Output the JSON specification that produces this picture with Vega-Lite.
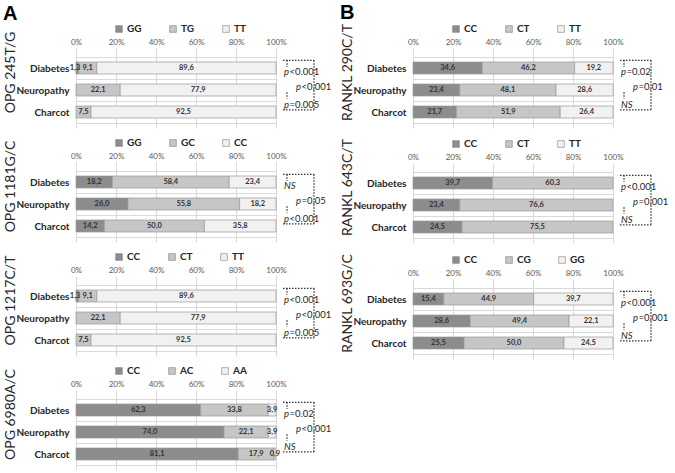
{
"$schema":"https://vega.github.io/schema/vega-lite/v6.json",
"padding":{"left":3,"right":2,"top":3,"bottom":0},
"background":"white",
"datasets":{
"bars":[
{"p":"OPG 245T/G","r":1,"g":"GG","o":0,"v":1.3},{"p":"OPG 245T/G","r":1,"g":"TG","o":1,"v":9.1},{"p":"OPG 245T/G","r":1,"g":"TT","o":2,"v":89.6},
{"p":"OPG 245T/G","r":2,"g":"TG","o":1,"v":22.1},{"p":"OPG 245T/G","r":2,"g":"TT","o":2,"v":77.9},
{"p":"OPG 245T/G","r":3,"g":"TG","o":1,"v":7.5},{"p":"OPG 245T/G","r":3,"g":"TT","o":2,"v":92.5},
{"p":"OPG 1181G/C","r":1,"g":"GG","o":0,"v":18.2},{"p":"OPG 1181G/C","r":1,"g":"GC","o":1,"v":58.4},{"p":"OPG 1181G/C","r":1,"g":"CC","o":2,"v":23.4},
{"p":"OPG 1181G/C","r":2,"g":"GG","o":0,"v":26.0},{"p":"OPG 1181G/C","r":2,"g":"GC","o":1,"v":55.8},{"p":"OPG 1181G/C","r":2,"g":"CC","o":2,"v":18.2},
{"p":"OPG 1181G/C","r":3,"g":"GG","o":0,"v":14.2},{"p":"OPG 1181G/C","r":3,"g":"GC","o":1,"v":50.0},{"p":"OPG 1181G/C","r":3,"g":"CC","o":2,"v":35.8},
{"p":"OPG 1217C/T","r":1,"g":"CC","o":0,"v":1.3},{"p":"OPG 1217C/T","r":1,"g":"CT","o":1,"v":9.1},{"p":"OPG 1217C/T","r":1,"g":"TT","o":2,"v":89.6},
{"p":"OPG 1217C/T","r":2,"g":"CT","o":1,"v":22.1},{"p":"OPG 1217C/T","r":2,"g":"TT","o":2,"v":77.9},
{"p":"OPG 1217C/T","r":3,"g":"CT","o":1,"v":7.5},{"p":"OPG 1217C/T","r":3,"g":"TT","o":2,"v":92.5},
{"p":"OPG 6980A/C","r":1,"g":"CC","o":0,"v":62.3},{"p":"OPG 6980A/C","r":1,"g":"AC","o":1,"v":33.8},{"p":"OPG 6980A/C","r":1,"g":"AA","o":2,"v":3.9},
{"p":"OPG 6980A/C","r":2,"g":"CC","o":0,"v":74.0},{"p":"OPG 6980A/C","r":2,"g":"AC","o":1,"v":22.1},{"p":"OPG 6980A/C","r":2,"g":"AA","o":2,"v":3.9},
{"p":"OPG 6980A/C","r":3,"g":"CC","o":0,"v":81.1},{"p":"OPG 6980A/C","r":3,"g":"AC","o":1,"v":17.9},{"p":"OPG 6980A/C","r":3,"g":"AA","o":2,"v":0.9},
{"p":"RANKL 290C/T","r":1,"g":"CC","o":0,"v":34.6},{"p":"RANKL 290C/T","r":1,"g":"CT","o":1,"v":46.2},{"p":"RANKL 290C/T","r":1,"g":"TT","o":2,"v":19.2},
{"p":"RANKL 290C/T","r":2,"g":"CC","o":0,"v":23.4},{"p":"RANKL 290C/T","r":2,"g":"CT","o":1,"v":48.1},{"p":"RANKL 290C/T","r":2,"g":"TT","o":2,"v":28.6},
{"p":"RANKL 290C/T","r":3,"g":"CC","o":0,"v":21.7},{"p":"RANKL 290C/T","r":3,"g":"CT","o":1,"v":51.9},{"p":"RANKL 290C/T","r":3,"g":"TT","o":2,"v":26.4},
{"p":"RANKL 643C/T","r":1,"g":"CC","o":0,"v":39.7},{"p":"RANKL 643C/T","r":1,"g":"CT","o":1,"v":60.3},
{"p":"RANKL 643C/T","r":2,"g":"CC","o":0,"v":23.4},{"p":"RANKL 643C/T","r":2,"g":"CT","o":1,"v":76.6},
{"p":"RANKL 643C/T","r":3,"g":"CC","o":0,"v":24.5},{"p":"RANKL 643C/T","r":3,"g":"CT","o":1,"v":75.5},
{"p":"RANKL 693G/C","r":1,"g":"CC","o":0,"v":15.4},{"p":"RANKL 693G/C","r":1,"g":"CG","o":1,"v":44.9},{"p":"RANKL 693G/C","r":1,"g":"GG","o":2,"v":39.7},
{"p":"RANKL 693G/C","r":2,"g":"CC","o":0,"v":28.6},{"p":"RANKL 693G/C","r":2,"g":"CG","o":1,"v":49.4},{"p":"RANKL 693G/C","r":2,"g":"GG","o":2,"v":22.1},
{"p":"RANKL 693G/C","r":3,"g":"CC","o":0,"v":25.5},{"p":"RANKL 693G/C","r":3,"g":"CG","o":1,"v":50.0},{"p":"RANKL 693G/C","r":3,"g":"GG","o":2,"v":24.5}
],
"br":[
{"x":103.5,"x2":119,"y":0.65,"y2":0.65},
{"x":119,"x2":119,"y":0.65,"y2":2.9},
{"x":103.5,"x2":119,"y":2.9,"y2":2.9},
{"x":105.5,"x2":105.5,"y":0.65,"y2":0.95},
{"x":105.5,"x2":105.5,"y":2.1,"y2":2.4}
],
"pv":[
{"p":"OPG 245T/G","x":104,"y":1.18,"it":"p","rest":"<0.001"},{"p":"OPG 245T/G","x":104,"y":2.7,"it":"p","rest":"=0.005"},{"p":"OPG 245T/G","x":110,"y":1.85,"it":"p","rest":"<0.001"},
{"p":"OPG 1181G/C","x":104,"y":1.18,"it":"NS","rest":""},{"p":"OPG 1181G/C","x":104,"y":2.7,"it":"p","rest":"<0.001"},{"p":"OPG 1181G/C","x":110,"y":1.85,"it":"p","rest":"=0.05"},
{"p":"OPG 1217C/T","x":104,"y":1.18,"it":"p","rest":"<0.001"},{"p":"OPG 1217C/T","x":104,"y":2.7,"it":"p","rest":"=0.005"},{"p":"OPG 1217C/T","x":110,"y":1.85,"it":"p","rest":"<0.001"},
{"p":"OPG 6980A/C","x":104,"y":1.18,"it":"p","rest":"=0.02"},{"p":"OPG 6980A/C","x":104,"y":2.7,"it":"NS","rest":""},{"p":"OPG 6980A/C","x":110,"y":1.85,"it":"p","rest":"<0.001"},
{"p":"RANKL 290C/T","x":104,"y":1.18,"it":"p","rest":"=0.02"},{"p":"RANKL 290C/T","x":104,"y":2.7,"it":"NS","rest":""},{"p":"RANKL 290C/T","x":110,"y":1.85,"it":"p","rest":"=0.01"},
{"p":"RANKL 643C/T","x":104,"y":1.18,"it":"p","rest":"<0.001"},{"p":"RANKL 643C/T","x":104,"y":2.7,"it":"NS","rest":""},{"p":"RANKL 643C/T","x":110,"y":1.85,"it":"p","rest":"=0.001"},
{"p":"RANKL 693G/C","x":104,"y":1.18,"it":"p","rest":"<0.001"},{"p":"RANKL 693G/C","x":104,"y":2.7,"it":"NS","rest":""},{"p":"RANKL 693G/C","x":110,"y":1.85,"it":"p","rest":"=0.001"}
]
},
"hconcat":[
{"title":{"text":"A","anchor":"start","fontSize":20,"fontWeight":"bold","font":"Liberation Sans","color":"#000000","offset":0},
 "spacing":10,
 "resolve":{"scale":{"color":"independent","x":"independent","y":"independent"}},
 "vconcat":[
{"width":200,"height":76,"layer":[
 {"data":{"name":"bars"},"transform":[{"filter":"datum.p==='OPG 245T/G'"}],
  "mark":{"type":"bar","orient":"horizontal","size":12,"stroke":"#9a9a9a","strokeWidth":0.7},
  "encoding":{
   "x":{"field":"v","type":"quantitative","stack":"zero","scale":{"domain":[0,100],"nice":false},"axis":{"orient":"top","values":[0,20,40,60,80,100],"tickCount":20,"labelExpr":"datum.value + '%'","title":null,"labelOverlap":false,"labelFlush":false,"labelBound":false}},
   "y":{"field":"r","type":"quantitative","scale":{"domain":[0.5,3.5],"reverse":true,"nice":false,"zero":false},"axis":{"values":[0.5,1,1.5,2,2.5,3,3.5],"tickCount":20,"labelExpr":"datum.value===1?'Diabetes':datum.value===2?'Neuropathy':datum.value===3?'Charcot':''","gridOpacity":{"condition":{"test":"datum.value % 1 === 0","value":0},"value":1},"title":"OPG 245T/G","labelOverlap":false,"labelBound":false,"labelFlush":false}},
   "color":{"field":"g","type":"nominal","scale":{"domain":["GG","TG","TT"],"range":["#8c8c8c","#c6c6c6","#f1f1f1"]},"legend":{"orient":"none","legendX":38,"legendY":-28,"direction":"horizontal","title":null}},
   "order":{"field":"o","type":"quantitative"}}},
 {"data":{"name":"bars"},"transform":[{"filter":"datum.p==='OPG 245T/G'"},{"stack":"v","groupby":["r"],"sort":[{"field":"o","order":"ascending"}],"as":["s0","s1"]},{"fold":["s0","s1"],"as":["k","e"]},{"filter":"!(datum.o===0 && datum.v<2)"}],
  "mark":{"type":"text","fontSize":7.5,"fontWeight":"bold","color":"#333333"},
  "encoding":{"x":{"aggregate":"mean","field":"e","type":"quantitative"},"y":{"field":"r","type":"quantitative"},"text":{"field":"v","type":"quantitative","format":".1f"},"detail":{"field":"g","type":"nominal"}}},
 {"data":{"name":"bars"},"transform":[{"filter":"datum.p==='OPG 245T/G'"},{"stack":"v","groupby":["r"],"sort":[{"field":"o","order":"ascending"}],"as":["s0","s1"]},{"fold":["s0","s1"],"as":["k","e"]},{"filter":"datum.o===0 && datum.v<2"}],
  "mark":{"type":"text","fontSize":7.5,"fontWeight":"bold","color":"#333333","align":"right","dx":3},
  "encoding":{"x":{"aggregate":"mean","field":"e","type":"quantitative"},"y":{"field":"r","type":"quantitative"},"text":{"field":"v","type":"quantitative","format":".1f"},"detail":{"field":"g","type":"nominal"}}},
 {"data":{"name":"br"},"mark":{"type":"rule","strokeDash":[1.5,1.5],"strokeWidth":1.3,"color":"#333333"},"encoding":{"x":{"field":"x","type":"quantitative"},"x2":{"field":"x2"},"y":{"field":"y","type":"quantitative"},"y2":{"field":"y2"}}},
 {"data":{"name":"pv"},"transform":[{"filter":"datum.p==='OPG 245T/G'"}],"mark":{"type":"text","align":"left","fontStyle":"italic","fontSize":9.5,"color":"#262626"},"encoding":{"x":{"field":"x","type":"quantitative"},"y":{"field":"y","type":"quantitative"},"text":{"field":"it","type":"nominal"}}},
 {"data":{"name":"pv"},"transform":[{"filter":"datum.p==='OPG 245T/G'"}],"mark":{"type":"text","align":"left","dx":5.5,"fontSize":9.5,"color":"#262626"},"encoding":{"x":{"field":"x","type":"quantitative"},"y":{"field":"y","type":"quantitative"},"text":{"field":"rest","type":"nominal"}}}
]},
{"width":200,"height":76,"layer":[
 {"data":{"name":"bars"},"transform":[{"filter":"datum.p==='OPG 1181G/C'"}],
  "mark":{"type":"bar","orient":"horizontal","size":12,"stroke":"#9a9a9a","strokeWidth":0.7},
  "encoding":{
   "x":{"field":"v","type":"quantitative","stack":"zero","scale":{"domain":[0,100],"nice":false},"axis":{"orient":"top","values":[0,20,40,60,80,100],"tickCount":20,"labelExpr":"datum.value + '%'","title":null,"labelOverlap":false,"labelFlush":false,"labelBound":false}},
   "y":{"field":"r","type":"quantitative","scale":{"domain":[0.5,3.5],"reverse":true,"nice":false,"zero":false},"axis":{"values":[0.5,1,1.5,2,2.5,3,3.5],"tickCount":20,"labelExpr":"datum.value===1?'Diabetes':datum.value===2?'Neuropathy':datum.value===3?'Charcot':''","gridOpacity":{"condition":{"test":"datum.value % 1 === 0","value":0},"value":1},"title":"OPG 1181G/C","labelOverlap":false,"labelBound":false,"labelFlush":false}},
   "color":{"field":"g","type":"nominal","scale":{"domain":["GG","GC","CC"],"range":["#8c8c8c","#c6c6c6","#f1f1f1"]},"legend":{"orient":"none","legendX":38,"legendY":-28,"direction":"horizontal","title":null}},
   "order":{"field":"o","type":"quantitative"}}},
 {"data":{"name":"bars"},"transform":[{"filter":"datum.p==='OPG 1181G/C'"},{"stack":"v","groupby":["r"],"sort":[{"field":"o","order":"ascending"}],"as":["s0","s1"]},{"fold":["s0","s1"],"as":["k","e"]}],
  "mark":{"type":"text","fontSize":7.5,"fontWeight":"bold","color":"#333333"},
  "encoding":{"x":{"aggregate":"mean","field":"e","type":"quantitative"},"y":{"field":"r","type":"quantitative"},"text":{"field":"v","type":"quantitative","format":".1f"},"detail":{"field":"g","type":"nominal"}}},
 {"data":{"name":"br"},"mark":{"type":"rule","strokeDash":[1.5,1.5],"strokeWidth":1.3,"color":"#333333"},"encoding":{"x":{"field":"x","type":"quantitative"},"x2":{"field":"x2"},"y":{"field":"y","type":"quantitative"},"y2":{"field":"y2"}}},
 {"data":{"name":"pv"},"transform":[{"filter":"datum.p==='OPG 1181G/C'"}],"mark":{"type":"text","align":"left","fontStyle":"italic","fontSize":9.5,"color":"#262626"},"encoding":{"x":{"field":"x","type":"quantitative"},"y":{"field":"y","type":"quantitative"},"text":{"field":"it","type":"nominal"}}},
 {"data":{"name":"pv"},"transform":[{"filter":"datum.p==='OPG 1181G/C'"}],"mark":{"type":"text","align":"left","dx":5.5,"fontSize":9.5,"color":"#262626"},"encoding":{"x":{"field":"x","type":"quantitative"},"y":{"field":"y","type":"quantitative"},"text":{"field":"rest","type":"nominal"}}}
]},
{"width":200,"height":76,"layer":[
 {"data":{"name":"bars"},"transform":[{"filter":"datum.p==='OPG 1217C/T'"}],
  "mark":{"type":"bar","orient":"horizontal","size":12,"stroke":"#9a9a9a","strokeWidth":0.7},
  "encoding":{
   "x":{"field":"v","type":"quantitative","stack":"zero","scale":{"domain":[0,100],"nice":false},"axis":{"orient":"top","values":[0,20,40,60,80,100],"tickCount":20,"labelExpr":"datum.value + '%'","title":null,"labelOverlap":false,"labelFlush":false,"labelBound":false}},
   "y":{"field":"r","type":"quantitative","scale":{"domain":[0.5,3.5],"reverse":true,"nice":false,"zero":false},"axis":{"values":[0.5,1,1.5,2,2.5,3,3.5],"tickCount":20,"labelExpr":"datum.value===1?'Diabetes':datum.value===2?'Neuropathy':datum.value===3?'Charcot':''","gridOpacity":{"condition":{"test":"datum.value % 1 === 0","value":0},"value":1},"title":"OPG 1217C/T","labelOverlap":false,"labelBound":false,"labelFlush":false}},
   "color":{"field":"g","type":"nominal","scale":{"domain":["CC","CT","TT"],"range":["#8c8c8c","#c6c6c6","#f1f1f1"]},"legend":{"orient":"none","legendX":38,"legendY":-28,"direction":"horizontal","title":null}},
   "order":{"field":"o","type":"quantitative"}}},
 {"data":{"name":"bars"},"transform":[{"filter":"datum.p==='OPG 1217C/T'"},{"stack":"v","groupby":["r"],"sort":[{"field":"o","order":"ascending"}],"as":["s0","s1"]},{"fold":["s0","s1"],"as":["k","e"]},{"filter":"!(datum.o===0 && datum.v<2)"}],
  "mark":{"type":"text","fontSize":7.5,"fontWeight":"bold","color":"#333333"},
  "encoding":{"x":{"aggregate":"mean","field":"e","type":"quantitative"},"y":{"field":"r","type":"quantitative"},"text":{"field":"v","type":"quantitative","format":".1f"},"detail":{"field":"g","type":"nominal"}}},
 {"data":{"name":"bars"},"transform":[{"filter":"datum.p==='OPG 1217C/T'"},{"stack":"v","groupby":["r"],"sort":[{"field":"o","order":"ascending"}],"as":["s0","s1"]},{"fold":["s0","s1"],"as":["k","e"]},{"filter":"datum.o===0 && datum.v<2"}],
  "mark":{"type":"text","fontSize":7.5,"fontWeight":"bold","color":"#333333","align":"right","dx":3},
  "encoding":{"x":{"aggregate":"mean","field":"e","type":"quantitative"},"y":{"field":"r","type":"quantitative"},"text":{"field":"v","type":"quantitative","format":".1f"},"detail":{"field":"g","type":"nominal"}}},
 {"data":{"name":"br"},"mark":{"type":"rule","strokeDash":[1.5,1.5],"strokeWidth":1.3,"color":"#333333"},"encoding":{"x":{"field":"x","type":"quantitative"},"x2":{"field":"x2"},"y":{"field":"y","type":"quantitative"},"y2":{"field":"y2"}}},
 {"data":{"name":"pv"},"transform":[{"filter":"datum.p==='OPG 1217C/T'"}],"mark":{"type":"text","align":"left","fontStyle":"italic","fontSize":9.5,"color":"#262626"},"encoding":{"x":{"field":"x","type":"quantitative"},"y":{"field":"y","type":"quantitative"},"text":{"field":"it","type":"nominal"}}},
 {"data":{"name":"pv"},"transform":[{"filter":"datum.p==='OPG 1217C/T'"}],"mark":{"type":"text","align":"left","dx":5.5,"fontSize":9.5,"color":"#262626"},"encoding":{"x":{"field":"x","type":"quantitative"},"y":{"field":"y","type":"quantitative"},"text":{"field":"rest","type":"nominal"}}}
]},
{"width":200,"height":76,"layer":[
 {"data":{"name":"bars"},"transform":[{"filter":"datum.p==='OPG 6980A/C'"}],
  "mark":{"type":"bar","orient":"horizontal","size":12,"stroke":"#9a9a9a","strokeWidth":0.7},
  "encoding":{
   "x":{"field":"v","type":"quantitative","stack":"zero","scale":{"domain":[0,100],"nice":false},"axis":{"orient":"top","values":[0,20,40,60,80,100],"tickCount":20,"labelExpr":"datum.value + '%'","title":null,"labelOverlap":false,"labelFlush":false,"labelBound":false}},
   "y":{"field":"r","type":"quantitative","scale":{"domain":[0.5,3.5],"reverse":true,"nice":false,"zero":false},"axis":{"values":[0.5,1,1.5,2,2.5,3,3.5],"tickCount":20,"labelExpr":"datum.value===1?'Diabetes':datum.value===2?'Neuropathy':datum.value===3?'Charcot':''","gridOpacity":{"condition":{"test":"datum.value % 1 === 0","value":0},"value":1},"title":"OPG 6980A/C","labelOverlap":false,"labelBound":false,"labelFlush":false}},
   "color":{"field":"g","type":"nominal","scale":{"domain":["CC","AC","AA"],"range":["#8c8c8c","#c6c6c6","#f1f1f1"]},"legend":{"orient":"none","legendX":38,"legendY":-28,"direction":"horizontal","title":null}},
   "order":{"field":"o","type":"quantitative"}}},
 {"data":{"name":"bars"},"transform":[{"filter":"datum.p==='OPG 6980A/C'"},{"stack":"v","groupby":["r"],"sort":[{"field":"o","order":"ascending"}],"as":["s0","s1"]},{"fold":["s0","s1"],"as":["k","e"]}],
  "mark":{"type":"text","fontSize":7.5,"fontWeight":"bold","color":"#333333"},
  "encoding":{"x":{"aggregate":"mean","field":"e","type":"quantitative"},"y":{"field":"r","type":"quantitative"},"text":{"field":"v","type":"quantitative","format":".1f"},"detail":{"field":"g","type":"nominal"}}},
 {"data":{"name":"br"},"mark":{"type":"rule","strokeDash":[1.5,1.5],"strokeWidth":1.3,"color":"#333333"},"encoding":{"x":{"field":"x","type":"quantitative"},"x2":{"field":"x2"},"y":{"field":"y","type":"quantitative"},"y2":{"field":"y2"}}},
 {"data":{"name":"pv"},"transform":[{"filter":"datum.p==='OPG 6980A/C'"}],"mark":{"type":"text","align":"left","fontStyle":"italic","fontSize":9.5,"color":"#262626"},"encoding":{"x":{"field":"x","type":"quantitative"},"y":{"field":"y","type":"quantitative"},"text":{"field":"it","type":"nominal"}}},
 {"data":{"name":"pv"},"transform":[{"filter":"datum.p==='OPG 6980A/C'"}],"mark":{"type":"text","align":"left","dx":5.5,"fontSize":9.5,"color":"#262626"},"encoding":{"x":{"field":"x","type":"quantitative"},"y":{"field":"y","type":"quantitative"},"text":{"field":"rest","type":"nominal"}}}
]}
]},
{"title":{"text":"B","anchor":"start","fontSize":20,"fontWeight":"bold","font":"Liberation Sans","color":"#000000","offset":0},
 "spacing":10,
 "resolve":{"scale":{"color":"independent","x":"independent","y":"independent"}},
 "vconcat":[
{"width":200,"height":76,"layer":[
 {"data":{"name":"bars"},"transform":[{"filter":"datum.p==='RANKL 290C/T'"}],
  "mark":{"type":"bar","orient":"horizontal","size":12,"stroke":"#9a9a9a","strokeWidth":0.7},
  "encoding":{
   "x":{"field":"v","type":"quantitative","stack":"zero","scale":{"domain":[0,100],"nice":false},"axis":{"orient":"top","values":[0,20,40,60,80,100],"tickCount":20,"labelExpr":"datum.value + '%'","title":null,"labelOverlap":false,"labelFlush":false,"labelBound":false}},
   "y":{"field":"r","type":"quantitative","scale":{"domain":[0.5,3.5],"reverse":true,"nice":false,"zero":false},"axis":{"values":[0.5,1,1.5,2,2.5,3,3.5],"tickCount":20,"labelExpr":"datum.value===1?'Diabetes':datum.value===2?'Neuropathy':datum.value===3?'Charcot':''","gridOpacity":{"condition":{"test":"datum.value % 1 === 0","value":0},"value":1},"title":"RANKL 290C/T","labelOverlap":false,"labelBound":false,"labelFlush":false}},
   "color":{"field":"g","type":"nominal","scale":{"domain":["CC","CT","TT"],"range":["#8c8c8c","#c6c6c6","#f1f1f1"]},"legend":{"orient":"none","legendX":38,"legendY":-28,"direction":"horizontal","title":null}},
   "order":{"field":"o","type":"quantitative"}}},
 {"data":{"name":"bars"},"transform":[{"filter":"datum.p==='RANKL 290C/T'"},{"stack":"v","groupby":["r"],"sort":[{"field":"o","order":"ascending"}],"as":["s0","s1"]},{"fold":["s0","s1"],"as":["k","e"]}],
  "mark":{"type":"text","fontSize":7.5,"fontWeight":"bold","color":"#333333"},
  "encoding":{"x":{"aggregate":"mean","field":"e","type":"quantitative"},"y":{"field":"r","type":"quantitative"},"text":{"field":"v","type":"quantitative","format":".1f"},"detail":{"field":"g","type":"nominal"}}},
 {"data":{"name":"br"},"mark":{"type":"rule","strokeDash":[1.5,1.5],"strokeWidth":1.3,"color":"#333333"},"encoding":{"x":{"field":"x","type":"quantitative"},"x2":{"field":"x2"},"y":{"field":"y","type":"quantitative"},"y2":{"field":"y2"}}},
 {"data":{"name":"pv"},"transform":[{"filter":"datum.p==='RANKL 290C/T'"}],"mark":{"type":"text","align":"left","fontStyle":"italic","fontSize":9.5,"color":"#262626"},"encoding":{"x":{"field":"x","type":"quantitative"},"y":{"field":"y","type":"quantitative"},"text":{"field":"it","type":"nominal"}}},
 {"data":{"name":"pv"},"transform":[{"filter":"datum.p==='RANKL 290C/T'"}],"mark":{"type":"text","align":"left","dx":5.5,"fontSize":9.5,"color":"#262626"},"encoding":{"x":{"field":"x","type":"quantitative"},"y":{"field":"y","type":"quantitative"},"text":{"field":"rest","type":"nominal"}}}
]},
{"width":200,"height":76,"layer":[
 {"data":{"name":"bars"},"transform":[{"filter":"datum.p==='RANKL 643C/T'"}],
  "mark":{"type":"bar","orient":"horizontal","size":12,"stroke":"#9a9a9a","strokeWidth":0.7},
  "encoding":{
   "x":{"field":"v","type":"quantitative","stack":"zero","scale":{"domain":[0,100],"nice":false},"axis":{"orient":"top","values":[0,20,40,60,80,100],"tickCount":20,"labelExpr":"datum.value + '%'","title":null,"labelOverlap":false,"labelFlush":false,"labelBound":false}},
   "y":{"field":"r","type":"quantitative","scale":{"domain":[0.5,3.5],"reverse":true,"nice":false,"zero":false},"axis":{"values":[0.5,1,1.5,2,2.5,3,3.5],"tickCount":20,"labelExpr":"datum.value===1?'Diabetes':datum.value===2?'Neuropathy':datum.value===3?'Charcot':''","gridOpacity":{"condition":{"test":"datum.value % 1 === 0","value":0},"value":1},"title":"RANKL 643C/T","labelOverlap":false,"labelBound":false,"labelFlush":false}},
   "color":{"field":"g","type":"nominal","scale":{"domain":["CC","CT","TT"],"range":["#8c8c8c","#c6c6c6","#f1f1f1"]},"legend":{"orient":"none","legendX":38,"legendY":-28,"direction":"horizontal","title":null}},
   "order":{"field":"o","type":"quantitative"}}},
 {"data":{"name":"bars"},"transform":[{"filter":"datum.p==='RANKL 643C/T'"},{"stack":"v","groupby":["r"],"sort":[{"field":"o","order":"ascending"}],"as":["s0","s1"]},{"fold":["s0","s1"],"as":["k","e"]}],
  "mark":{"type":"text","fontSize":7.5,"fontWeight":"bold","color":"#333333"},
  "encoding":{"x":{"aggregate":"mean","field":"e","type":"quantitative"},"y":{"field":"r","type":"quantitative"},"text":{"field":"v","type":"quantitative","format":".1f"},"detail":{"field":"g","type":"nominal"}}},
 {"data":{"name":"br"},"mark":{"type":"rule","strokeDash":[1.5,1.5],"strokeWidth":1.3,"color":"#333333"},"encoding":{"x":{"field":"x","type":"quantitative"},"x2":{"field":"x2"},"y":{"field":"y","type":"quantitative"},"y2":{"field":"y2"}}},
 {"data":{"name":"pv"},"transform":[{"filter":"datum.p==='RANKL 643C/T'"}],"mark":{"type":"text","align":"left","fontStyle":"italic","fontSize":9.5,"color":"#262626"},"encoding":{"x":{"field":"x","type":"quantitative"},"y":{"field":"y","type":"quantitative"},"text":{"field":"it","type":"nominal"}}},
 {"data":{"name":"pv"},"transform":[{"filter":"datum.p==='RANKL 643C/T'"}],"mark":{"type":"text","align":"left","dx":5.5,"fontSize":9.5,"color":"#262626"},"encoding":{"x":{"field":"x","type":"quantitative"},"y":{"field":"y","type":"quantitative"},"text":{"field":"rest","type":"nominal"}}}
]},
{"width":200,"height":76,"layer":[
 {"data":{"name":"bars"},"transform":[{"filter":"datum.p==='RANKL 693G/C'"}],
  "mark":{"type":"bar","orient":"horizontal","size":12,"stroke":"#9a9a9a","strokeWidth":0.7},
  "encoding":{
   "x":{"field":"v","type":"quantitative","stack":"zero","scale":{"domain":[0,100],"nice":false},"axis":{"orient":"top","values":[0,20,40,60,80,100],"tickCount":20,"labelExpr":"datum.value + '%'","title":null,"labelOverlap":false,"labelFlush":false,"labelBound":false}},
   "y":{"field":"r","type":"quantitative","scale":{"domain":[0.5,3.5],"reverse":true,"nice":false,"zero":false},"axis":{"values":[0.5,1,1.5,2,2.5,3,3.5],"tickCount":20,"labelExpr":"datum.value===1?'Diabetes':datum.value===2?'Neuropathy':datum.value===3?'Charcot':''","gridOpacity":{"condition":{"test":"datum.value % 1 === 0","value":0},"value":1},"title":"RANKL 693G/C","labelOverlap":false,"labelBound":false,"labelFlush":false}},
   "color":{"field":"g","type":"nominal","scale":{"domain":["CC","CG","GG"],"range":["#8c8c8c","#c6c6c6","#f1f1f1"]},"legend":{"orient":"none","legendX":38,"legendY":-28,"direction":"horizontal","title":null}},
   "order":{"field":"o","type":"quantitative"}}},
 {"data":{"name":"bars"},"transform":[{"filter":"datum.p==='RANKL 693G/C'"},{"stack":"v","groupby":["r"],"sort":[{"field":"o","order":"ascending"}],"as":["s0","s1"]},{"fold":["s0","s1"],"as":["k","e"]}],
  "mark":{"type":"text","fontSize":7.5,"fontWeight":"bold","color":"#333333"},
  "encoding":{"x":{"aggregate":"mean","field":"e","type":"quantitative"},"y":{"field":"r","type":"quantitative"},"text":{"field":"v","type":"quantitative","format":".1f"},"detail":{"field":"g","type":"nominal"}}},
 {"data":{"name":"br"},"mark":{"type":"rule","strokeDash":[1.5,1.5],"strokeWidth":1.3,"color":"#333333"},"encoding":{"x":{"field":"x","type":"quantitative"},"x2":{"field":"x2"},"y":{"field":"y","type":"quantitative"},"y2":{"field":"y2"}}},
 {"data":{"name":"pv"},"transform":[{"filter":"datum.p==='RANKL 693G/C'"}],"mark":{"type":"text","align":"left","fontStyle":"italic","fontSize":9.5,"color":"#262626"},"encoding":{"x":{"field":"x","type":"quantitative"},"y":{"field":"y","type":"quantitative"},"text":{"field":"it","type":"nominal"}}},
 {"data":{"name":"pv"},"transform":[{"filter":"datum.p==='RANKL 693G/C'"}],"mark":{"type":"text","align":"left","dx":5.5,"fontSize":9.5,"color":"#262626"},"encoding":{"x":{"field":"x","type":"quantitative"},"y":{"field":"y","type":"quantitative"},"text":{"field":"rest","type":"nominal"}}}
]}
]}
],
"spacing":8,
"resolve":{"scale":{"color":"independent","x":"independent","y":"independent"}},
"config":{
 "locale":{"number":{"decimal":",","thousands":".","grouping":[3],"currency":["","€"]}},
 "font":"Lato",
 "view":{"stroke":null},
 "axisX":{"domain":false,"grid":true,"gridColor":"#d9d9d9","tickColor":"#d9d9d9","tickSize":4,"labelFontSize":8,"labelColor":"#595959","labelPadding":2,"labelFont":"Lato"},
 "axisY":{"domain":false,"ticks":false,"grid":true,"gridColor":"#d9d9d9","labelFontSize":10,"labelFontWeight":"bold","labelColor":"#262626","labelPadding":7,"labelFont":"Lato","titleFontSize":14,"titleFontWeight":"normal","titleColor":"#262626","titleFont":"Lato","titleX":-59,"titleY":20,"titleAlign":"center","titleBaseline":"bottom"},
 "legend":{"labelFontSize":10,"labelFontWeight":"bold","labelColor":"#262626","labelFont":"Lato","symbolType":"square","symbolSize":45,"symbolStrokeColor":"#7f7f7f","symbolStrokeWidth":0.6,"symbolOpacity":1,"columnPadding":26,"labelOffset":3}
}
}
